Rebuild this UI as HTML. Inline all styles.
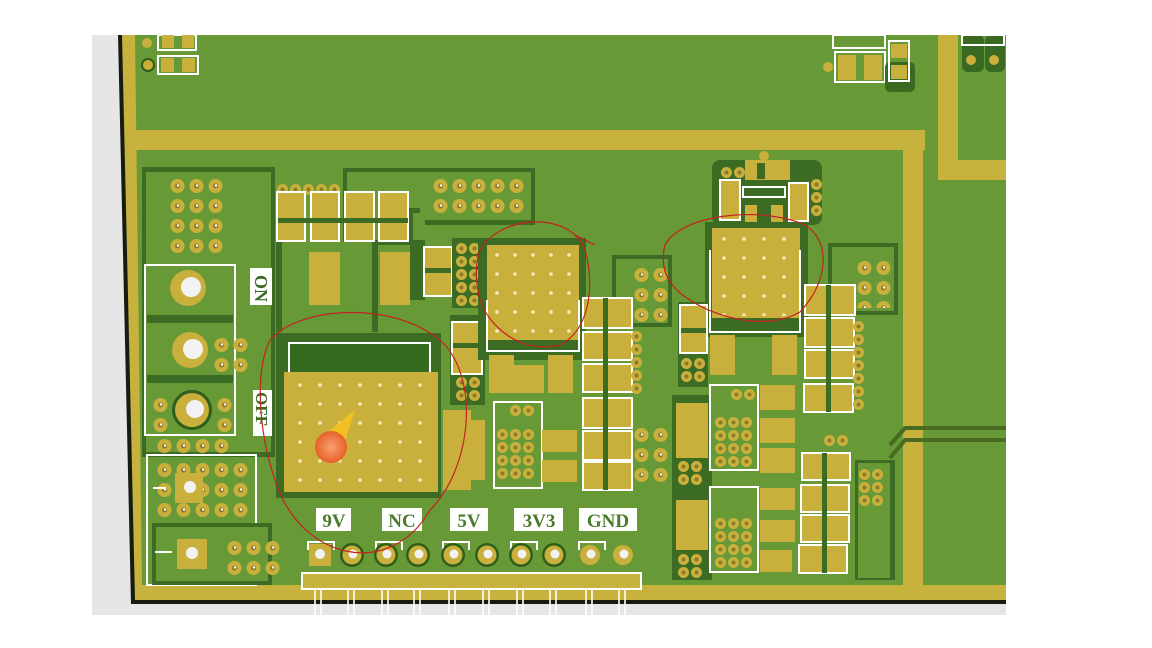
<!DOCTYPE html>
<html><head><meta charset="utf-8"><style>
html,body{margin:0;padding:0;background:#fff;width:1152px;height:648px;overflow:hidden}
svg{display:block}
text{font-family:"Liberation Serif",serif;font-weight:bold}
</style></head><body>
<svg width="1152" height="648" viewBox="0 0 1152 648" xmlns="http://www.w3.org/2000/svg">
<defs>
<pattern id="via" width="19" height="20" patternUnits="userSpaceOnUse">
<circle cx="9.5" cy="10" r="7" fill="#c9b03c"/><circle cx="9.5" cy="10" r="2.5" fill="#8a7a2a"/><circle cx="10" cy="9.5" r="1.2" fill="#fff"/>
</pattern>
<pattern id="via2" width="13" height="13" patternUnits="userSpaceOnUse">
<circle cx="6.5" cy="6.5" r="5.5" fill="#c9b03c"/><circle cx="6.5" cy="6.5" r="2" fill="#8a7a2a"/>
</pattern>
<pattern id="dots" width="20" height="19" patternUnits="userSpaceOnUse">
<circle cx="10" cy="9" r="1.8" fill="#f4ecc0"/>
</pattern>
<pattern id="dots2" width="18" height="19" patternUnits="userSpaceOnUse">
<circle cx="9" cy="9" r="1.8" fill="#f4ecc0"/>
</pattern>
<radialGradient id="og"><stop offset="0" stop-color="#f8a070"/><stop offset="1" stop-color="#e8602a"/></radialGradient>
</defs>
<rect width="1152" height="648" fill="#fff"/>
<rect x="92" y="35" width="914" height="580" fill="#e6e6e6"/>
<polygon points="118,35 1006,35 1006,604 131,604" fill="#171c10"/>
<polygon points="122,35 1006,35 1006,600 135,600" fill="#c6b23c"/>
<polygon points="135,35 1006,35 1006,585 142,585" fill="#679a37"/>
<rect x="135" y="130" width="790" height="20" fill="#c6b23c"/>
<rect x="903" y="150" width="20" height="440" fill="#c6b23c"/>
<rect x="938" y="35" width="20" height="145" fill="#c6b23c"/>
<rect x="938" y="160" width="68" height="20" fill="#c6b23c"/>
<path d="M890,445 L905,428 L1006,428 M890,458 L905,440 L1006,440" stroke="#4a6a22" stroke-width="4" fill="none"/>
<!-- top-left small parts -->
<circle cx="147" cy="43" r="5" fill="#c9b03c"/><circle cx="148" cy="65" r="7" fill="#2e5e1c"/><circle cx="148" cy="65" r="5" fill="#c9b03c"/>
<rect x="158" y="35" width="38" height="15" fill="none" stroke="#fff" stroke-width="2"/>
<rect x="162" y="35" width="12" height="13" fill="#c9b03c"/><rect x="182" y="35" width="12" height="13" fill="#c9b03c"/>
<rect x="158" y="56" width="40" height="18" fill="none" stroke="#fff" stroke-width="2"/>
<rect x="161" y="58" width="13" height="14" fill="#c9b03c"/><rect x="182" y="58" width="13" height="14" fill="#c9b03c"/>
<!-- top-right small parts -->
<rect x="833" y="35" width="52" height="13" fill="none" stroke="#fff" stroke-width="2"/>
<rect x="835" y="52" width="50" height="30" fill="none" stroke="#fff" stroke-width="2"/>
<rect x="838" y="55" width="18" height="25" fill="#c9b03c"/><rect x="864" y="55" width="18" height="25" fill="#c9b03c"/>
<circle cx="828" cy="67" r="5" fill="#c9b03c"/>
<rect x="885" y="62" width="30" height="30" rx="5" fill="#3a6a22"/>
<rect x="889" y="41" width="20" height="40" fill="none" stroke="#fff" stroke-width="2"/>
<rect x="891" y="44" width="16" height="14" fill="#c9b03c"/><rect x="891" y="65" width="16" height="14" fill="#c9b03c"/>
<rect x="962" y="35" width="22" height="37" rx="6" fill="#3a6a22"/><rect x="985" y="35" width="20" height="37" rx="6" fill="#3a6a22"/>
<rect x="962" y="35" width="42" height="10" fill="none" stroke="#fff" stroke-width="2"/>
<circle cx="971" cy="60" r="5" fill="#c9b03c"/><circle cx="994" cy="60" r="5" fill="#c9b03c"/>
<!-- left big pour region -->
<rect x="142" y="167" width="133" height="290" fill="#3c6c24"/>
<rect x="146" y="172" width="125" height="280" fill="#679a37"/>
<rect transform="translate(168,176)" width="57" height="80" fill="url(#via)"/>
<!-- ON switch -->
<rect x="145" y="265" width="90" height="170" fill="none" stroke="#fff" stroke-width="2"/>
<rect x="147" y="315" width="86" height="8" fill="#3c6c24"/>
<rect x="147" y="375" width="86" height="8" fill="#3c6c24"/>
<circle cx="188" cy="288" r="18" fill="#c9b03c"/><circle cx="191" cy="287" r="10" fill="#f2f2f2"/>
<circle cx="190" cy="350" r="18" fill="#c9b03c"/><circle cx="193" cy="349" r="10" fill="#f2f2f2"/>
<circle cx="192" cy="410" r="20" fill="#2e5e1c"/><circle cx="192" cy="410" r="17" fill="#c9b03c"/><circle cx="195" cy="409" r="9" fill="#f2f2f2"/>
<rect transform="translate(212,335)" width="38" height="40" fill="url(#via)"/>
<rect transform="translate(151,395)" width="19" height="40" fill="url(#via)"/>
<rect transform="translate(215,395)" width="19" height="40" fill="url(#via)"/>
<rect transform="translate(155,436)" width="76" height="20" fill="url(#via)"/>
<rect x="250" y="268" width="22" height="37" fill="#fff"/>
<text x="0" y="0" font-size="18" fill="#3c6c24" transform="translate(255,275) rotate(90)">ON</text>
<rect x="253" y="390" width="19" height="46" fill="#fff"/>
<text x="0" y="0" font-size="17" fill="#3c6c24" transform="translate(256,392) rotate(90)">OFF</text>
<!-- lower-left box -->
<rect x="147" y="455" width="109" height="130" fill="none" stroke="#fff" stroke-width="2"/>
<rect transform="translate(155,460)" width="95" height="60" fill="url(#via)"/>
<rect x="175" y="473" width="28" height="30" fill="#c9b03c"/><circle cx="190" cy="487" r="6" fill="#f2f2f2"/>
<line x1="153" y1="488" x2="166" y2="488" stroke="#fff" stroke-width="2"/>
<rect x="152" y="523" width="120" height="62" fill="#3c6c24"/>
<rect x="156" y="527" width="112" height="54" fill="#679a37"/>
<rect x="177" y="539" width="30" height="30" fill="#c9b03c"/><circle cx="192" cy="553" r="6" fill="#f2f2f2"/>
<line x1="155" y1="552" x2="172" y2="552" stroke="#fff" stroke-width="2"/>
<rect transform="translate(225,538)" width="57" height="40" fill="url(#via)"/>
<!-- top middle region (drawn first) -->
<path d="M343,168 H535 V225 H425 V213 H413 V245 H375 V242 H343 Z" fill="#3c6c24"/>
<path d="M347,172 H531 V220 H420 V208 H409 V240 H347 Z" fill="#679a37"/>
<rect transform="translate(431,176)" width="95" height="40" fill="url(#via)"/>
<!-- resistors row -->
<rect transform="translate(276,183)" width="65" height="13" fill="url(#via2)"/>
<g stroke="#fff" stroke-width="2">
<rect x="277" y="192" width="28" height="49" fill="#c9b03c"/>
<rect x="311" y="192" width="28" height="49" fill="#c9b03c"/>
<rect x="345" y="192" width="29" height="49" fill="#c9b03c"/>
<rect x="379" y="192" width="29" height="49" fill="#c9b03c"/>
</g>
<rect x="278" y="218" width="130" height="5" fill="#3c6c24"/>
<rect x="276" y="242" width="6" height="90" fill="#3c6c24"/>
<rect x="372" y="242" width="6" height="90" fill="#3c6c24"/>
<rect x="309" y="252" width="31" height="53" fill="#c9b03c"/>
<rect x="380" y="252" width="30" height="53" fill="#c9b03c"/>
<rect x="410" y="240" width="15" height="60" fill="#3c6c24"/>
<rect x="424" y="247" width="28" height="49" fill="#c9b03c" stroke="#fff" stroke-width="2"/>
<rect x="425" y="268" width="26" height="5" fill="#3c6c24"/>
<rect x="452" y="238" width="30" height="70" fill="#3c6c24"/>
<rect transform="translate(455,242)" width="26" height="65" fill="url(#via2)"/>
<rect x="450" y="315" width="35" height="90" fill="#3c6c24"/>
<rect x="452" y="322" width="30" height="52" fill="#c9b03c" stroke="#fff" stroke-width="2"/>
<rect x="453" y="343" width="28" height="5" fill="#3c6c24"/>
<rect transform="translate(455,376)" width="26" height="26" fill="url(#via2)"/>
<!-- big module -->
<rect x="276" y="333" width="165" height="165" fill="#3c6c24"/>
<rect x="289" y="343" width="141" height="34" fill="#346a1e" stroke="#fff" stroke-width="2"/>
<rect x="284" y="372" width="154" height="120" fill="#c9b03c"/>
<rect transform="translate(290,376)" width="140" height="114" fill="url(#dots)"/>
<polygon points="318,440 355,410 342,450" fill="#f0c020"/>
<circle cx="331" cy="447" r="16" fill="url(#og)"/>
<rect x="443" y="410" width="28" height="80" fill="#c9b03c"/>
<!-- middle module -->
<rect x="478" y="238" width="108" height="122" fill="#3c6c24"/>
<rect x="487" y="245" width="92" height="95" fill="#c9b03c"/>
<rect transform="translate(488,246)" width="90" height="95" fill="url(#dots2)"/>
<path d="M487,300 V351 H579 V300" fill="none" stroke="#fff" stroke-width="2"/>
<rect x="489" y="355" width="25" height="38" fill="#c9b03c"/>
<rect x="548" y="355" width="25" height="38" fill="#c9b03c"/>
<rect x="612" y="255" width="60" height="72" fill="#3c6c24"/>
<rect x="616" y="259" width="52" height="64" fill="#679a37"/>
<rect transform="translate(632,265)" width="38" height="60" fill="url(#via)"/>
<!-- resistor column -->
<g stroke="#fff" stroke-width="2" fill="#c9b03c">
<rect x="583" y="298" width="49" height="30"/>
<rect x="583" y="332" width="49" height="28"/>
<rect x="583" y="364" width="49" height="28"/>
<rect x="583" y="398" width="49" height="30"/>
<rect x="583" y="431" width="49" height="29"/>
<rect x="583" y="462" width="49" height="28"/>
</g>
<rect x="603" y="298" width="5" height="192" fill="#3c6c24"/>
<rect transform="translate(630,330)" width="13" height="65" fill="url(#via2)"/>
<rect transform="translate(632,425)" width="38" height="60" fill="url(#via)"/>
<rect x="514" y="365" width="30" height="28" fill="#c9b03c"/>
<!-- component box -->
<rect x="494" y="402" width="48" height="86" fill="#679a37" stroke="#fff" stroke-width="2"/>
<rect transform="translate(509,404)" width="26" height="13" fill="url(#via2)"/>
<rect transform="translate(496,428)" width="39" height="52" fill="url(#via2)"/>
<rect x="542" y="430" width="35" height="22" fill="#c9b03c"/>
<rect x="542" y="460" width="35" height="22" fill="#c9b03c"/>
<rect x="460" y="420" width="25" height="60" fill="#c9b03c"/>
<!-- right top cluster -->
<rect x="712" y="160" width="110" height="65" rx="8" fill="#3c6c24"/>
<rect x="745" y="160" width="45" height="20" fill="#c9b03c"/>
<rect x="757" y="163" width="8" height="16" fill="#3c6c24"/>
<circle cx="764" cy="156" r="5" fill="#c9b03c"/>
<rect transform="translate(720,166)" width="26" height="13" fill="url(#via2)"/>
<rect x="720" y="180" width="20" height="40" fill="#c9b03c" stroke="#fff" stroke-width="2"/>
<rect x="743" y="187" width="42" height="10" fill="#3c6c24" stroke="#fff" stroke-width="2"/>
<rect x="789" y="183" width="19" height="38" fill="#c9b03c" stroke="#fff" stroke-width="2"/>
<rect transform="translate(810,178)" width="13" height="39" fill="url(#via2)"/>
<rect x="745" y="205" width="12" height="18" fill="#c9b03c"/><rect x="771" y="205" width="12" height="18" fill="#c9b03c"/>
<!-- right module -->
<rect x="705" y="222" width="103" height="115" fill="#3c6c24"/>
<rect x="712" y="228" width="88" height="90" fill="#c9b03c"/>
<rect transform="translate(714,230)" width="84" height="86" fill="url(#dots)"/>
<path d="M710,250 V332 H800 V250" fill="none" stroke="#fff" stroke-width="2"/>
<rect x="710" y="335" width="25" height="40" fill="#c9b03c"/><rect x="772" y="335" width="25" height="40" fill="#c9b03c"/>
<rect x="678" y="302" width="30" height="85" fill="#3c6c24"/>
<rect x="680" y="305" width="27" height="48" fill="#c9b03c" stroke="#fff" stroke-width="2"/>
<rect x="681" y="328" width="25" height="5" fill="#3c6c24"/>
<rect transform="translate(680,357)" width="26" height="26" fill="url(#via2)"/>
<rect x="828" y="243" width="70" height="72" fill="#3c6c24"/>
<rect x="832" y="247" width="62" height="64" fill="#679a37"/>
<rect transform="translate(855,258)" width="38" height="50" fill="url(#via)"/>
<!-- right resistor columns -->
<g stroke="#fff" stroke-width="2" fill="#c9b03c">
<rect x="805" y="285" width="50" height="30"/>
<rect x="805" y="318" width="49" height="29"/>
<rect x="805" y="350" width="49" height="28"/>
<rect x="804" y="384" width="49" height="28"/>
<rect x="802" y="453" width="48" height="27"/>
<rect x="801" y="485" width="48" height="27"/>
<rect x="801" y="515" width="48" height="27"/>
<rect x="799" y="545" width="48" height="28"/>
</g>
<rect x="826" y="285" width="5" height="127" fill="#3c6c24"/>
<rect x="822" y="453" width="5" height="120" fill="#3c6c24"/>
<rect transform="translate(852,320)" width="13" height="91" fill="url(#via2)"/>
<rect transform="translate(823,434)" width="26" height="13" fill="url(#via2)"/>
<rect x="855" y="460" width="40" height="120" fill="#3c6c24"/>
<rect x="858" y="463" width="32" height="115" fill="#679a37"/>
<rect transform="translate(858,468)" width="26" height="39" fill="url(#via2)"/>
<!-- lower right component boxes -->
<rect x="672" y="395" width="40" height="185" fill="#3c6c24"/>
<rect x="676" y="403" width="32" height="55" fill="#c9b03c"/>
<rect x="676" y="500" width="32" height="50" fill="#c9b03c"/>
<rect transform="translate(677,460)" width="26" height="26" fill="url(#via2)"/>
<rect transform="translate(677,553)" width="26" height="26" fill="url(#via2)"/>
<rect x="710" y="385" width="48" height="85" fill="#679a37" stroke="#fff" stroke-width="2"/>
<rect transform="translate(730,388)" width="26" height="13" fill="url(#via2)"/>
<rect transform="translate(714,416)" width="39" height="52" fill="url(#via2)"/>
<rect x="710" y="487" width="48" height="85" fill="#679a37" stroke="#fff" stroke-width="2"/>
<rect transform="translate(714,517)" width="39" height="52" fill="url(#via2)"/>
<rect x="760" y="385" width="35" height="25" fill="#c9b03c"/>
<rect x="760" y="418" width="35" height="25" fill="#c9b03c"/>
<rect x="760" y="448" width="35" height="25" fill="#c9b03c"/>
<rect x="760" y="488" width="35" height="22" fill="#c9b03c"/>
<rect x="760" y="520" width="35" height="22" fill="#c9b03c"/>
<rect x="760" y="550" width="32" height="22" fill="#c9b03c"/>
<!-- pin labels -->
<g fill="#fff">
<rect x="316" y="508" width="35" height="23"/>
<rect x="382" y="508" width="40" height="23"/>
<rect x="450" y="508" width="38" height="23"/>
<rect x="514" y="508" width="49" height="23"/>
<rect x="579" y="508" width="58" height="23"/>
</g>
<g font-size="19" fill="#4b7a2a" text-anchor="middle">
<text x="334" y="527">9V</text>
<text x="402" y="527">NC</text>
<text x="469" y="527">5V</text>
<text x="539" y="527">3V3</text>
<text x="608" y="527">GND</text>
</g>
<g fill="none" stroke="#fff" stroke-width="2">
<path d="M308,550 V542 H334 V550"/><path d="M376,550 V542 H402 V550"/><path d="M443,550 V542 H469 V550"/><path d="M511,550 V542 H537 V550"/><path d="M579,550 V542 H605 V550"/>
</g>
<rect x="309" y="544" width="22" height="22" fill="#c9b03c"/><circle cx="320" cy="554" r="5" fill="#f2f2f2"/>
<g>
<circle cx="352" cy="555" r="12" fill="#2e5e1c"/><circle cx="352" cy="555" r="9.5" fill="#c9b03c"/><circle cx="353" cy="554" r="4.5" fill="#f2f2f2"/>
<circle cx="386" cy="555" r="12" fill="#2e5e1c"/><circle cx="386" cy="555" r="9.5" fill="#c9b03c"/><circle cx="387" cy="554" r="4.5" fill="#f2f2f2"/>
<circle cx="418" cy="555" r="12" fill="#2e5e1c"/><circle cx="418" cy="555" r="9.5" fill="#c9b03c"/><circle cx="419" cy="554" r="4.5" fill="#f2f2f2"/>
<circle cx="453" cy="555" r="12" fill="#2e5e1c"/><circle cx="453" cy="555" r="9.5" fill="#c9b03c"/><circle cx="454" cy="554" r="4.5" fill="#f2f2f2"/>
<circle cx="487" cy="555" r="12" fill="#2e5e1c"/><circle cx="487" cy="555" r="9.5" fill="#c9b03c"/><circle cx="488" cy="554" r="4.5" fill="#f2f2f2"/>
<circle cx="521" cy="555" r="12" fill="#2e5e1c"/><circle cx="521" cy="555" r="9.5" fill="#c9b03c"/><circle cx="522" cy="554" r="4.5" fill="#f2f2f2"/>
<circle cx="554" cy="555" r="12" fill="#2e5e1c"/><circle cx="554" cy="555" r="9.5" fill="#c9b03c"/><circle cx="555" cy="554" r="4.5" fill="#f2f2f2"/>
<circle cx="590" cy="555" r="10" fill="#c9b03c"/><circle cx="591" cy="554" r="4.5" fill="#f2f2f2"/>
<circle cx="623" cy="555" r="10" fill="#c9b03c"/><circle cx="624" cy="554" r="4.5" fill="#f2f2f2"/>
</g>
<rect x="302" y="573" width="339" height="16" fill="#c6b23c" stroke="#fff" stroke-width="2"/>
<g stroke="#fff" stroke-width="1.6">
<path d="M315,590V615 M321,590V615 M348,590V615 M354,590V615 M382,590V615 M388,590V615 M414,590V615 M420,590V615 M449,590V615 M455,590V615 M483,590V615 M489,590V615 M517,590V615 M523,590V615 M550,590V615 M556,590V615 M586,590V615 M592,590V615 M619,590V615 M625,590V615"/>
</g>
<g fill="none" stroke="#c42020" stroke-width="1.2">
<path d="M270,340 C300,305 400,300 445,345 C480,385 470,470 430,510 C390,580 300,560 275,480 C258,430 255,370 270,340 Z"/>
<path d="M480,250 C500,215 570,210 585,250 C595,285 590,330 560,345 C520,355 488,325 480,300 C475,280 475,265 480,250 Z M575,235 L595,245"/>
<path d="M665,245 C680,215 760,205 805,225 C830,240 830,280 800,312 C770,330 720,320 690,300 C665,285 660,265 665,245 Z"/>
</g>
</svg>
</body></html>
